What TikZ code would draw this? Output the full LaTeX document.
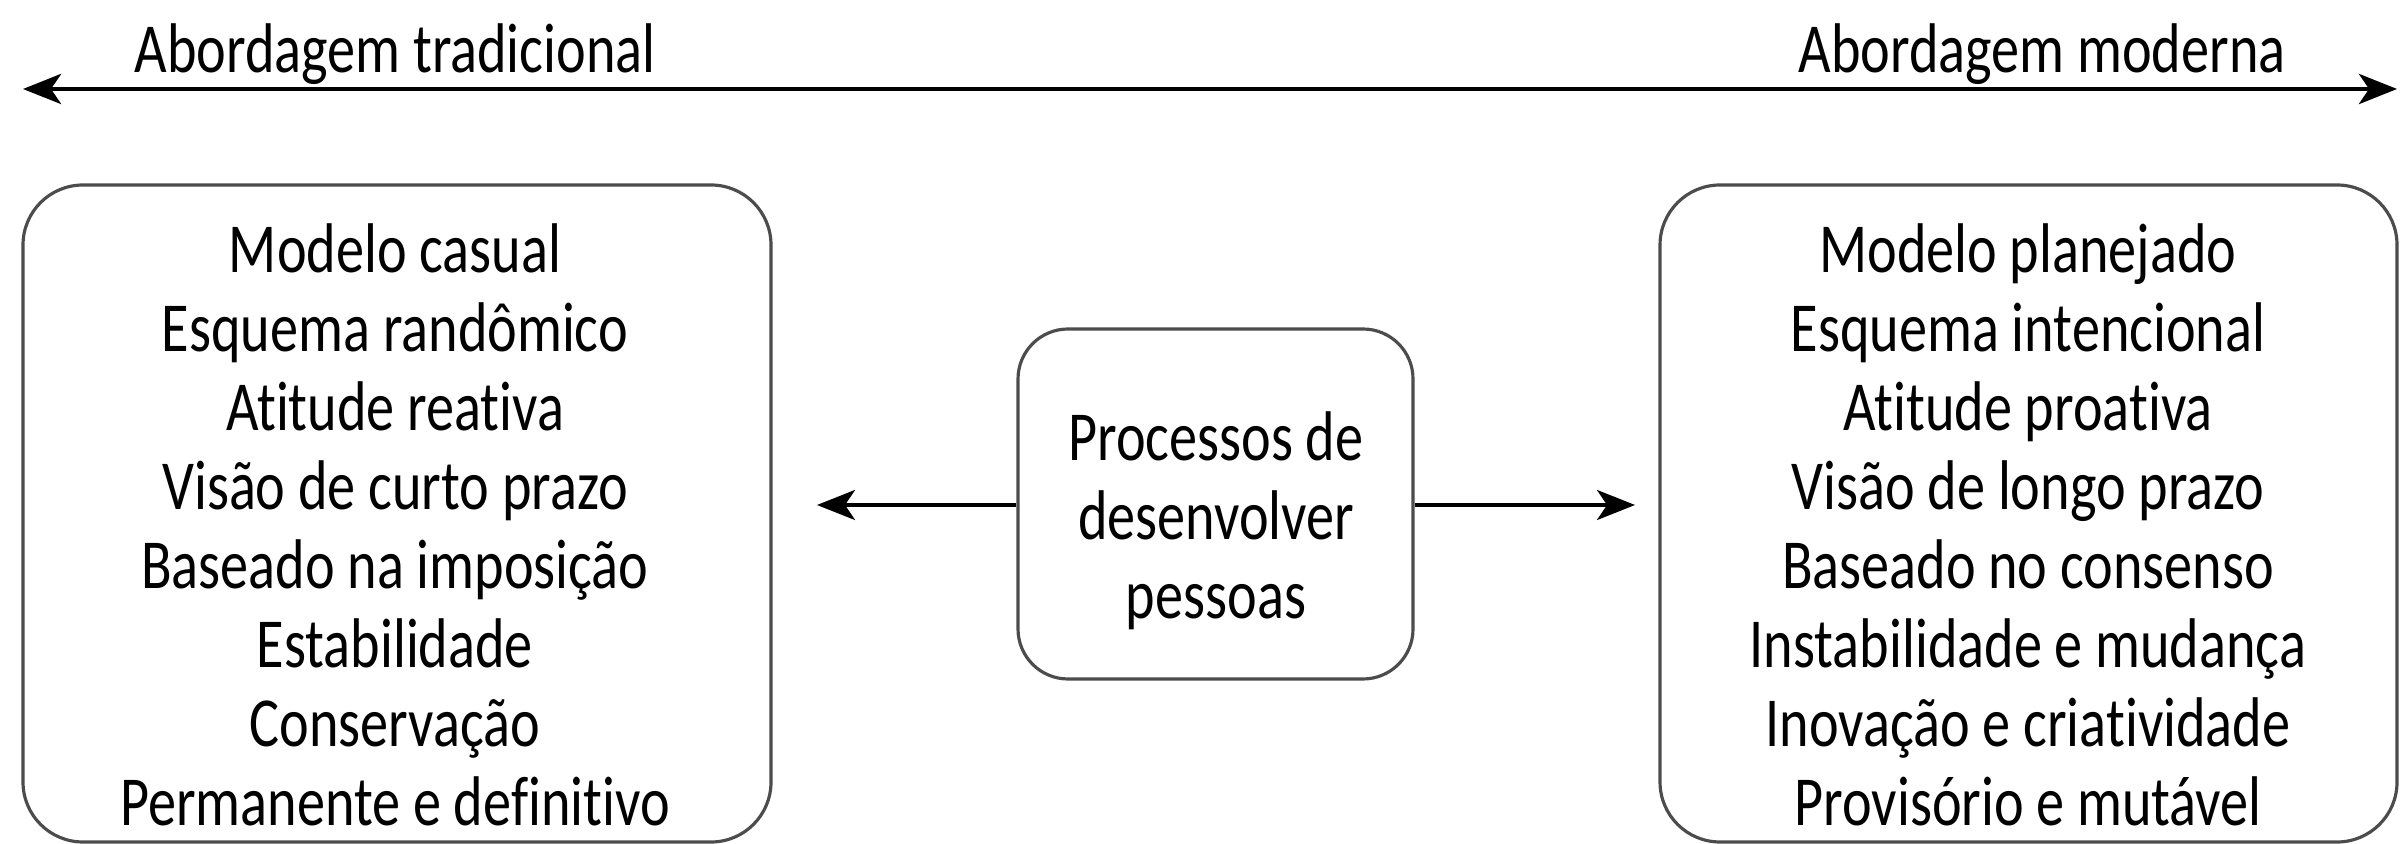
\documentclass[tikz,border=0pt]{standalone}
\usepackage{fontspec}
\setmainfont{Carlito}[FakeStretch=0.80,Ligatures=NoCommon]
\usetikzlibrary{arrows.meta}
\begin{document}
\begin{tikzpicture}[x=1cm,y=1cm,
  txt/.style={font=\fontsize{20}{22.5}\selectfont, align=center, inner sep=0pt},
  rbox/.style={draw=black!70, line width=0.9pt, rounded corners=0.6cm, inner sep=0pt},
  mytip/.tip={Stealth[length=0.38cm,width=0.30cm,inset=0.10cm]},
  arr/.style={line width=1.0pt, -{mytip}}
]
\useasboundingbox (0,0) rectangle (24,-8.44);
% top axis
\coordinate (tl) at (0.23,-0.89);
\coordinate (tr) at (23.97,-0.89);
\draw[line width=1.4pt, {mytip}-{mytip}] (tl) -- (tr);
\node[txt, anchor=base] (lt) at (3.95,-0.73) {Abordagem tradicional};
\node[txt, anchor=base] (rt) at (20.42,-0.73) {Abordagem moderna};
% boxes
\node[rbox, minimum width=7.48cm, minimum height=6.57cm] (lb) at (3.97,-5.135) {};
\node[rbox, minimum width=7.37cm, minimum height=6.57cm] (rb) at (20.285,-5.135) {};
\node[rbox, rounded corners=0.5cm, minimum width=3.95cm, minimum height=3.50cm] (cb) at (12.155,-5.04) {};
\node[txt] (lbt) at (3.95,-5.25) {Modelo casual\\Esquema randômico\\Atitude reativa\\Visão de curto prazo\\Baseado na imposição\\Estabilidade\\Conservação\\Permanente e definitivo};
\node[txt] (rbt) at (20.28,-5.25) {Modelo planejado\\Esquema intencional\\Atitude proativa\\Visão de longo prazo\\Baseado no consenso\\Instabilidade e mudança\\Inovação e criatividade\\Provisório e mutável};
\node[txt] (cbt) at (12.16,-5.21) {Processos de\\desenvolver\\pessoas};
% center arrows
\coordinate (la) at (8.17,-5.05);
\coordinate (ra) at (16.35,-5.05);
\draw[arr] (cb.west |- la) -- (la);
\draw[arr] (cb.east |- ra) -- (ra);
\end{tikzpicture}
\end{document}
